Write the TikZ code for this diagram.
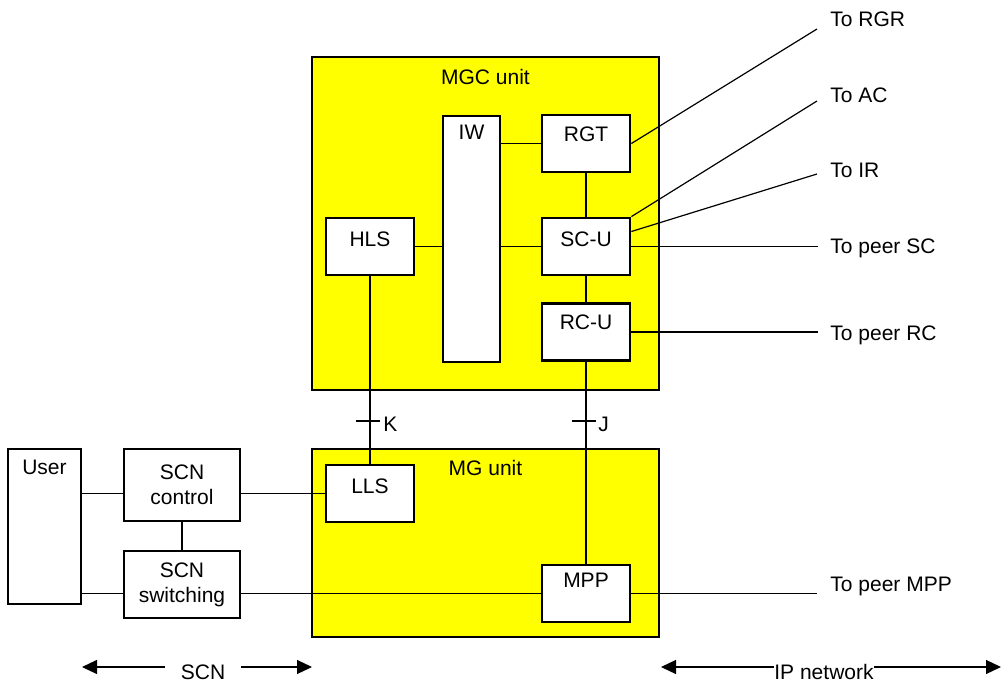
\documentclass[tikz,border=0pt]{standalone}
\usepackage{fontspec}
\setmainfont{Liberation Sans}
\usepackage{xcolor}
\definecolor{amarelo}{RGB}{255,255,0}
\usepackage{tikz}
\usetikzlibrary{arrows.meta,positioning,calc}
\tikzset{
    unidade/.style={
        rectangle,
        draw,
        fill=amarelo,
        line width=0.6pt,
        minimum width=173.5pt,
        inner sep=0pt
    },
    bloco/.style={
        rectangle,
        draw,
        fill=white,
        line width=1.4pt,
        minimum width=44pt,
        minimum height=28.5pt,
        inner sep=0pt
    },
    externo/.style={
        rectangle,
        draw,
        fill=white,
        line width=0.6pt,
        align=center,
        inner sep=0pt
    },
    ligacao/.style={line width=0.6pt},
    seta/.style={-{Triangle[length=7.5pt,width=7pt]}, line width=0.6pt},
    destino/.style={anchor=base west, inner sep=0pt}
}

\begin{document}
\begin{tikzpicture}[x=0.5pt, y=-0.5pt, font=\fontsize{10.5}{12.5}\selectfont]
        \useasboundingbox (0,0) rectangle (1002,686);
        \node[unidade, minimum height=166.5pt, label={[below=3pt]north:MGC unit}] (mgc)
            at (485.5,223.5) {};
        \node[unidade, minimum height=94pt, label={[below=2.5pt]north:MG unit}] (mg)
            at (485.5,543) {};
        \node[bloco, minimum width=28.5pt, minimum height=123pt, label={[below=1.5pt]north:IW}] (iw)
            at (471.5,239) {};
        \node[bloco, label={[below=3pt]north:RGT}] (rgt)
            at (586,143.5) {};
        \node[bloco, label={[below=4pt]north:HLS}] (hls)
            at (370,246.5) {};
        \node[bloco, label={[below=4pt]north:SC-U}] (scu)
            at (586,246.5) {};
        \node[bloco, label={[below=3pt]north:RC-U}] (rcu)
            at (586,332) {};
        \node[bloco, label={[below=4pt]north:LLS}] (lls)
            at (370,493.5) {};
        \node[bloco, label={[below=1pt]north:MPP}] (mpp)
            at (586,593.5) {};
        \node[externo, minimum width=36.5pt, minimum height=77.5pt, label={[below=2.5pt]north:User}] (user)
            at (44.5,526.5) {};
        \node[externo, minimum width=58pt, minimum height=36pt] (scnc)
            at (182,485) {SCN\\control};
        \node[externo, minimum width=58pt, minimum height=33.5pt] (scns)
            at (182,584.5) {SCN\\switching};
        \draw[ligacao] (hls.east) -- (hls.east -| iw.west);
        \draw[ligacao] (rgt.west) -- (rgt.west -| iw.east);
        \draw[ligacao] (scu.west) -- (scu.west -| iw.east);
        \draw[ligacao] (rgt) -- (scu);
        \draw[ligacao] (scu) -- (rcu);
        \draw[ligacao] (hls) -- (lls);
        \draw[ligacao] (rcu) -- (mpp);
        \coordinate (k) at (370,421);
        \coordinate (j) at (586,421);
        \draw[ligacao] ([xshift=-7pt]k) -- ([xshift=5pt]k);
        \draw[ligacao] ([xshift=-7pt]j) -- ([xshift=5pt]j);
        \node[anchor=west, inner sep=0pt] (klbl) at ([xshift=6.5pt,yshift=-1.5pt]k) {K};
        \node[anchor=west, inner sep=0pt] (jlbl) at ([xshift=6pt,yshift=-1.5pt]j) {J};
        \draw[ligacao] (user.east |- lls.west) -- (scnc.west |- lls.west);
        \draw[ligacao] (scnc.east |- lls.west) -- (lls.west);
        \draw[ligacao] (scnc) -- (scns);
        \draw[ligacao] (user.east |- mpp.west) -- (scns.west |- mpp.west);
        \draw[ligacao] (scns.east |- mpp.west) -- (mpp.west);
        \node[destino] (torgr) at (830,26) {To RGR};
        \node[destino] (toac) at (830,102) {To AC};
        \node[destino] (toir) at (830,177) {To IR};
        \node[destino] (tosc) at (830,253) {To peer SC};
        \node[destino] (torc) at (830,340) {To peer RC};
        \node[destino] (tompp) at (830,591) {To peer MPP};
        \coordinate (rgrend) at (817,29);
        \coordinate (acend) at (817,101);
        \coordinate (irend) at (817,174);
        \draw[ligacao] (rgt.east) -- (rgrend);
        \draw[ligacao] (scu.north east) -- (acend);
        \draw[ligacao] ([yshift=7.5pt]scu.east) -- (irend);
        \draw[ligacao] (scu.east) -- (scu.east -| 818,0);
        \draw[ligacao] (rcu.east) -- (rcu.east -| 818,0);
        \draw[ligacao] (mpp.east) -- (mpp.east -| 817,0);
        \node[inner xsep=7.5pt, inner ysep=0pt] (scnlbl) at (203,672) {SCN};
        \coordinate (scnl) at (82,667);
        \coordinate (scnr) at (312,667);
        \draw[seta] (scnlbl.west |- scnl) -- (scnl);
        \draw[seta] (scnlbl.east |- scnr) -- (scnr);
        \node[inner xsep=0pt, inner ysep=0pt] (iplbl) at (824,672) {IP network};
        \coordinate (ipl) at (661,667);
        \coordinate (ipr) at (1001,667);
        \draw[seta] (iplbl.west |- ipl) -- (ipl);
        \draw[seta] (iplbl.east |- ipr) -- (ipr);
    \end{tikzpicture}
\end{document}
